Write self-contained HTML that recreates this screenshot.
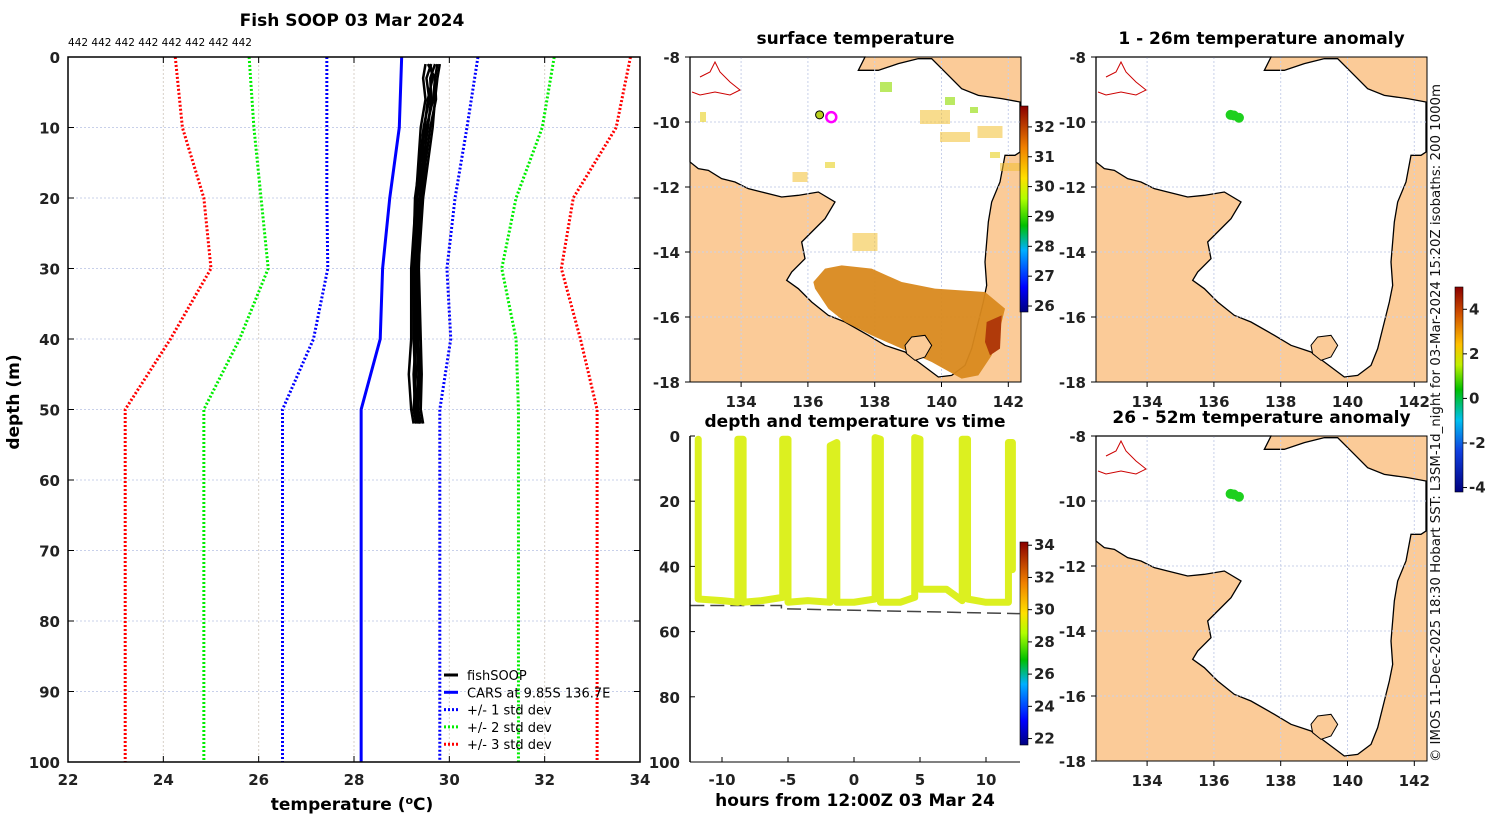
<!DOCTYPE html>
<html><head><meta charset="utf-8">
<style>
body{margin:0;background:#fff;}
svg{display:block;font-family:"DejaVu Sans","Liberation Sans",sans-serif;}
.tk{font-weight:bold;font-size:15px;fill:#222;}
.tt{font-weight:bold;font-size:17px;fill:#000;}
</style></head>
<body>
<svg id="fig" width="1500" height="820" viewBox="0 0 1500 820">
<defs>
<linearGradient id="jet" x1="0" y1="1" x2="0" y2="0">
<stop offset="0" stop-color="#00007f"/><stop offset="0.12" stop-color="#0000ff"/>
<stop offset="0.3" stop-color="#00b0ff"/><stop offset="0.42" stop-color="#00c000"/>
<stop offset="0.55" stop-color="#b0ff00"/><stop offset="0.65" stop-color="#ffe000"/>
<stop offset="0.8" stop-color="#f08000"/><stop offset="1" stop-color="#8a0000"/>
</linearGradient>
<linearGradient id="anom" x1="0" y1="1" x2="0" y2="0">
<stop offset="0" stop-color="#00007f"/><stop offset="0.2" stop-color="#1040e0"/>
<stop offset="0.35" stop-color="#00c0f0"/><stop offset="0.5" stop-color="#00c000"/>
<stop offset="0.62" stop-color="#c0f000"/><stop offset="0.72" stop-color="#ffc000"/>
<stop offset="0.87" stop-color="#d05000"/><stop offset="1" stop-color="#8a0000"/>
</linearGradient>
</defs>
<g id="left"></g>
<g id="maps"></g>
<g id="dt"></g>
<text x="1440" y="762" transform="rotate(-90 1440 762)" font-size="13" textLength="678" lengthAdjust="spacingAndGlyphs" fill="#111">© IMOS 11-Dec-2025 18:30 Hobart SST: L3SM-1d_night for 03-Mar-2024 15:20Z isobaths: 200  1000m</text>
</svg>
<script>
const NS="http://www.w3.org/2000/svg";
function mk(p,t,a){const e=document.createElementNS(NS,t);for(const k in a)e.setAttribute(k,a[k]);p.appendChild(e);return e;}

// ---------- profile chart data ----------
const stdDepths=[0,10,20,30,40,50,100];
const carsMean=[29.0,28.95,28.75,28.6,28.55,28.15,28.15];
const plus1=[30.6,30.37,30.12,29.95,30.03,29.8,29.8];
const minus1=[27.43,27.43,27.43,27.45,27.15,26.5,26.5];
const plus2=[32.2,31.95,31.4,31.1,31.4,31.45,31.45];
const minus2=[25.8,25.9,26.05,26.2,25.6,24.85,24.85];
const plus3=[33.8,33.5,32.6,32.35,32.75,33.1,33.1];
const minus3=[24.25,24.4,24.85,25.0,24.15,23.2,23.2];
const fishDepths=[1,3,6,10,15,20,25,30,40,45,50,52];
const fishProfiles=[
[29.5,29.45,29.5,29.4,29.35,29.3,29.25,29.2,29.2,29.15,29.2,29.25],
[29.7,29.6,29.62,29.55,29.45,29.38,29.32,29.3,29.28,29.3,29.25,29.3],
[29.8,29.75,29.7,29.65,29.55,29.45,29.4,29.35,29.35,29.38,29.35,29.4],
[29.6,29.65,29.55,29.48,29.42,29.33,29.3,29.28,29.3,29.25,29.28,29.32],
[29.75,29.7,29.72,29.6,29.5,29.42,29.38,29.36,29.4,29.42,29.4,29.45],
[29.62,29.52,29.58,29.46,29.38,29.28,29.26,29.24,29.25,29.28,29.3,29.35],
[29.55,29.7,29.66,29.52,29.48,29.4,29.35,29.32,29.33,29.35,29.32,29.38]];
const tempTicks=[22,24,26,28,30,32,34];
const depthTicks=[0,10,20,30,40,50,60,70,80,90,100];

const L=document.getElementById('left');
const PX0=68,PX1=640,PY0=57,PY1=762;
const xT=t=>PX0+(t-22)/12*(PX1-PX0);
const yD=d=>PY0+d/100*(PY1-PY0);
tempTicks.forEach(t=>{
 const g=mk(L,'line',{x1:xT(t),x2:xT(t),y1:PY0,y2:PY1,stroke:'#d8d0c8','stroke-dasharray':'2,2','stroke-width':1});
 
 mk(L,'line',{x1:xT(t),x2:xT(t),y1:PY1,y2:PY1-6,stroke:'#000'});
 mk(L,'line',{x1:xT(t),x2:xT(t),y1:PY0,y2:PY0+6,stroke:'#000'});
 const tx=mk(L,'text',{x:xT(t),y:PY1+23,'text-anchor':'middle',class:'tk'});tx.textContent=t;
 
});
depthTicks.forEach(d=>{
 mk(L,'line',{x1:PX0,x2:PX1,y1:yD(d),y2:yD(d),stroke:'#c8d0ea','stroke-dasharray':'2,2'});
 mk(L,'line',{x1:PX0,x2:PX0+6,y1:yD(d),y2:yD(d),stroke:'#000'});
 mk(L,'line',{x1:PX1,x2:PX1-6,y1:yD(d),y2:yD(d),stroke:'#000'});
 const tx=mk(L,'text',{x:PX0-8,y:yD(d)+6,'text-anchor':'end',class:'tk'});tx.textContent=d;
 
});
function line(p,arrT,arrD,stroke,w,dash,name){
 const pts=arrT.map((t,i)=>xT(t)+','+yD(arrD[i])).join(' ');
 const a={points:pts,fill:'none',stroke:stroke,'stroke-width':w};if(dash)a['stroke-dasharray']=dash;
 const e=mk(p,'polyline',a);
 
}
line(L,minus3,stdDepths,'#f00',3,'2,2','minus-3-std-line');
line(L,plus3,stdDepths,'#f00',3,'2,2','plus-3-std-line');
line(L,minus2,stdDepths,'#0e0',3,'2,2','minus-2-std-line');
line(L,plus2,stdDepths,'#0e0',3,'2,2','plus-2-std-line');
line(L,minus1,stdDepths,'#00f',3,'2,2','minus-1-std-line');
line(L,plus1,stdDepths,'#00f',3,'2,2','plus-1-std-line');
line(L,carsMean,stdDepths,'#00f',3,null,'cars-mean-line');
fishProfiles.forEach(pr=>line(L,pr,fishDepths,'#000',2.5,null,'fishsoop-profile'));
const fr=mk(L,'rect',{x:PX0,y:PY0,width:PX1-PX0,height:PY1-PY0,fill:'none',stroke:'#000','stroke-width':1.5});

let t=mk(L,'text',{x:352,y:26,'text-anchor':'middle',class:'tt'});t.textContent='Fish SOOP 03 Mar 2024';

t=mk(L,'text',{x:68,y:46,'font-size':'11',fill:'#000',textLength:'184',lengthAdjust:'spacingAndGlyphs'});t.textContent='442 442 442 442 442 442 442 442';

t=mk(L,'text',{x:352,y:810,'text-anchor':'middle',class:'tt','font-size':'17.5'});t.innerHTML='temperature (<tspan dy="-6" font-size="11">o</tspan><tspan dy="6">C)</tspan>';

t=mk(L,'text',{x:19,y:402,'text-anchor':'middle',class:'tt','font-size':'17.5',transform:'rotate(-90 19 402)'});t.textContent='depth (m)';

// legend
const leg=[['fishSOOP','#000',null],['CARS at 9.85S 136.7E','#00f',null],['+/- 1 std dev','#00f','2,2'],['+/- 2 std dev','#0e0','2,2'],['+/- 3 std dev','#f00','2,2']];
leg.forEach((l,i)=>{const y=675+i*17.3;
 const a={x1:444,x2:458,y1:y,y2:y,stroke:l[1],'stroke-width':3};if(l[2])a['stroke-dasharray']=l[2];
 mk(L,'line',a);
 const e=mk(L,'text',{x:467,y:y+5,'font-size':'13',fill:'#000'});e.textContent=l[0];
 
});

// ---------- maps ----------
const M=document.getElementById('maps');
const seaPts=[[15,5],[540,5],[520,45],[580,45],[640,25],[700,10],[740,10],[790,60],[830,100],[880,120],[950,130],[1005,140],[1005,290],[990,300],[960,300],[945,380],[920,440],[910,500],[905,560],[900,620],[905,690],[895,740],[880,800],[860,880],[840,930],[800,960],[760,965],[700,920],[660,890],[600,870],[550,840],[480,800],[430,780],[380,740],[340,700],[305,675],[320,650],[360,610],[350,560],[380,530],[420,490],[450,440],[400,410],[340,420],[290,425],[230,410],[190,400],[150,380],[110,370],[70,345],[40,340],[15,320]];
const groote=[[660,870],[680,845],[720,840],[740,870],[720,905],[690,915],[665,895]];
const sstBand=[[385,680],[420,640],[470,630],[560,640],[650,680],[750,700],[900,710],[960,760],[950,800],[920,900],[880,960],[830,970],[740,920],[650,880],[560,840],[480,800],[430,760],[390,700]];
const sstDark=[[905,800],[950,780],[945,880],[915,900],[900,860]];
const lonTicks=[134,136,138,140,142];
const latTicks=[-8,-10,-12,-14,-16,-18];
function drawMap(x0,y0,title,kind){
 const W=331,H=325;
 const g=mk(M,'g',{transform:`translate(${x0},${y0})`});
 
 const cv=p=>p.map(q=>((q[0]-15)/3)+','+((q[1]-5)/3)).join(' ');
 mk(g,'rect',{x:0,y:0,width:W,height:H,fill:'#fbcb98'});
 mk(g,'polygon',{points:cv(seaPts),fill:'#fff',stroke:'#000','stroke-width':1.3});
 const lx=lon=>(lon-132.47)*33.4, ly=lat=>(-8-lat)*32.5;
 lonTicks.forEach(l=>mk(g,'line',{x1:lx(l),x2:lx(l),y1:0,y2:H,stroke:'#c8d0ea','stroke-dasharray':'2,2'}));
 latTicks.forEach(l=>mk(g,'line',{x1:0,x2:W,y1:ly(l),y2:ly(l),stroke:'#c8d0ea','stroke-dasharray':'2,2'}));
 if(kind==='sst'){
  const b=mk(g,'polygon',{points:cv(sstBand),fill:'#d9891e',opacity:0.95});
  
  mk(g,'polygon',{points:cv(sstDark),fill:'#b03a0a'});
  [[245,60,30,14],[265,80,30,10],[300,75,25,12],[110,120,15,10],[175,185,25,18],[320,110,20,8]].forEach(r=>mk(g,'rect',{x:r[0]-r[2]/2,y:r[1]-r[3]/2,width:r[2],height:r[3],fill:'#f2c030',opacity:0.55}));
  [[10,55,6,10],[135,105,10,6],[300,95,10,6]].forEach(r=>mk(g,'rect',{x:r[0],y:r[1],width:r[2],height:r[3],fill:'#e8d020',opacity:0.6}));
  [[190,25,12,10],[255,40,10,8],[280,50,8,6]].forEach(r=>mk(g,'rect',{x:r[0],y:r[1],width:r[2],height:r[3],fill:'#9ee020',opacity:0.7}));
 }
 mk(g,'polygon',{points:cv(groote),fill:'#fbcb98',stroke:'#000','stroke-width':1});
 mk(g,'polyline',{points:'10,20 20,15 25,5 30,15 40,25 50,33 40,38 25,35 10,38 2,35',fill:'none',stroke:'#c00','stroke-width':1});
 if(kind==='sst'){
  mk(g,'circle',{cx:lx(136.35),cy:ly(-9.78),r:4,fill:'#b8d020',stroke:'#000'});
  mk(g,'circle',{cx:lx(136.7),cy:ly(-9.85),r:5,fill:'none',stroke:'#f0f','stroke-width':2.5});
 } else {
  [[136.5,-9.78],[136.6,-9.8],[136.75,-9.87]].forEach(p=>mk(g,'circle',{cx:lx(p[0]),cy:ly(p[1]),r:5,fill:'#1ed01e'}));
 }
 mk(g,'rect',{x:0,y:0,width:W,height:H,fill:'none',stroke:'#000','stroke-width':1});
 latTicks.forEach(l=>{mk(g,'line',{x1:0,x2:-5,y1:ly(l),y2:ly(l),stroke:'#000'});
  const e=mk(g,'text',{x:-10,y:ly(l)+6,'text-anchor':'end',class:'tk'});e.textContent=l;
  });
 lonTicks.forEach(l=>{mk(g,'line',{x1:lx(l),x2:lx(l),y1:H,y2:H+5,stroke:'#000'});
  const e=mk(g,'text',{x:lx(l),y:H+25,'text-anchor':'middle',class:'tk'});e.textContent=l;
  });
 const tt=mk(g,'text',{x:W/2,y:-13,'text-anchor':'middle',class:'tt','font-size':'17'});tt.textContent=title;
 
}
drawMap(690,57,'surface temperature','sst');
drawMap(1096,57,'1 - 26m temperature anomaly','anom');
drawMap(1096,436,'26 - 52m temperature anomaly','anom');

function cbar(x,y0,y1,grad,vals,vmin,vmax,name){
 const r=mk(M,'rect',{x:x,y:y0,width:8,height:y1-y0,fill:`url(#${grad})`,stroke:'#000','stroke-width':0.6});
 
 vals.forEach(v=>{const y=y1-(v-vmin)/(vmax-vmin)*(y1-y0);
  mk(M,'line',{x1:x+8,x2:x+12,y1:y,y2:y,stroke:'#000'});
  const e=mk(M,'text',{x:x+14,y:y+5,class:'tk','font-size':'13'});e.textContent=v;
  });
}
cbar(1020,106,312,'jet',[26,27,28,29,30,31,32],25.8,32.7,'sst-colorbar');
cbar(1455,287,492,'anom',[-4,-2,0,2,4],-4.2,5.0,'anomaly-colorbar');

// ---------- depth vs time ----------
const diveHours=[-11.8,-11.8,-10,-8.8,-8.8,-8.4,-8.4,-7,-5.4,-5.4,-5.0,-5.0,-3.5,-1.8,-1.8,-1.3,-1.3,0,1.6,1.6,2.0,2.0,3.5,4.6,4.6,5.0,5.0,7,8.2,8.2,8.6,8.6,10,11.7,11.7,12.0,12.0];
const diveDepths=[1,50,50.5,51,1,1,51,50.5,49.5,1,1,51,50.5,51,3,2,51,51,50,0.5,1,51,51,49.5,0.5,1,47,47,50.5,1,1,50,51,51,2,2,41];
const bathyHours=[-12.4,-5.5,-5.5,12.6];
const bathyDepths=[52,52,53,54.5];
const hourTicks=[-10,-5,0,5,10];
const dtDepthTicks=[0,20,40,60,80,100];
const D=document.getElementById('dt');
const DX0=690,DX1=1020,DY0=436,DY1=762;
const xH=h=>854+h*13.2, yM=d=>DY0+d/100*(DY1-DY0);
const bp=mk(D,'polyline',{points:bathyHours.map((h,i)=>xH(h)+','+yM(bathyDepths[i])).join(' '),fill:'none',stroke:'#444','stroke-width':1.5,'stroke-dasharray':'14,6'});

const dp=mk(D,'polyline',{points:diveHours.map((h,i)=>xH(h)+','+yM(diveDepths[i])).join(' '),fill:'none',stroke:'#dcf020','stroke-width':7,'stroke-linejoin':'round','stroke-linecap':'round'});

mk(D,'line',{x1:DX0,x2:DX0,y1:DY0,y2:DY1,stroke:'#000','stroke-width':1.5});
hourTicks.forEach(h=>{mk(D,'line',{x1:xH(h),x2:xH(h),y1:DY1,y2:DY1-5,stroke:'#000'});
 const e=mk(D,'text',{x:xH(h),y:DY1+23,'text-anchor':'middle',class:'tk'});e.textContent=h;
 });
dtDepthTicks.forEach(d=>{mk(D,'line',{x1:DX0,x2:DX0+5,y1:yM(d),y2:yM(d),stroke:'#000'});
 const e=mk(D,'text',{x:DX0-10,y:yM(d)+6,'text-anchor':'end',class:'tk'});e.textContent=d;
 });
mk(D,'line',{x1:DX0,x2:DX1,y1:DY1,y2:DY1,stroke:'#000'});
t=mk(D,'text',{x:855,y:427,'text-anchor':'middle',class:'tt','font-size':'17.5'});t.textContent='depth and temperature vs time';

t=mk(D,'text',{x:855,y:806,'text-anchor':'middle',class:'tt','font-size':'17.5'});t.textContent='hours from 12:00Z 03 Mar 24';

cbar(1020,542,745,'jet',[22,24,26,28,30,32,34],21.6,34.2,'depth-time-colorbar');
</script>
</body></html>
